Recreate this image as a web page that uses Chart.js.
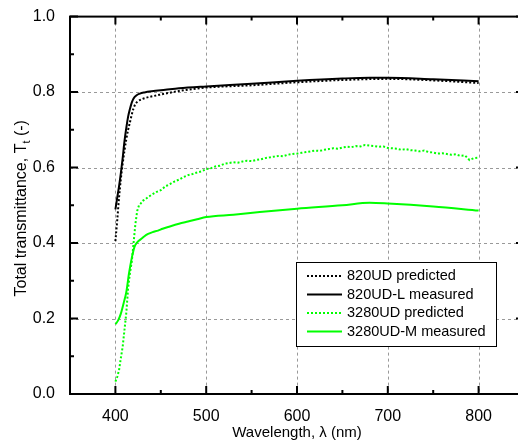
<!DOCTYPE html>
<html>
<head>
<meta charset="utf-8">
<script src="https://cdn.jsdelivr.net/npm/chart.js@4/dist/chart.umd.min.js"></script>
<style>
html, body { margin: 0; padding: 0; background: #fff; overflow: hidden; width: 518px; height: 443px; }
canvas { display: block; }
</style>
</head>
<body>
<canvas id="chart" width="532" height="443"></canvas>
<script>
// axis ticks
const xTicks = [400, 500, 600, 700, 800];
const xMinor = [450, 550, 650, 750];
const yTicks = [0, 0.2, 0.4, 0.6, 0.8, 1.0];
const yMinor = [0.1, 0.3, 0.5, 0.7, 0.9];

// 820UD predicted
const wl820Pred = [400, 402, 404, 406, 408, 410, 412, 414, 416, 418, 420, 422, 425, 430, 437, 445, 455, 470, 485, 500, 550, 600, 650, 700, 750, 800];
const t820Pred  = [0.405, 0.46, 0.52, 0.57, 0.61, 0.645, 0.675, 0.70, 0.72, 0.74, 0.757, 0.768, 0.776, 0.782, 0.787, 0.791, 0.796, 0.803, 0.808, 0.812, 0.818, 0.826, 0.832, 0.835, 0.831, 0.824];

// 820UD-L measured
const wl820Meas = [400, 402, 404, 406, 408, 410, 412, 414, 416, 418, 420, 423, 427, 432, 440, 455, 470, 500, 550, 600, 650, 680, 700, 750, 800];
const t820Meas  = [0.489, 0.52, 0.55, 0.585, 0.625, 0.67, 0.705, 0.735, 0.755, 0.772, 0.783, 0.791, 0.796, 0.799, 0.802, 0.806, 0.810, 0.815, 0.822, 0.830, 0.836, 0.838, 0.838, 0.834, 0.829];

// 3280UD predicted
const wl3280Pred = [400, 402, 404, 406, 408, 410, 412, 414, 416, 418, 420, 422, 424, 426, 428, 430, 433, 436, 440, 445, 450, 455, 460, 465, 470, 475, 480, 485, 490, 495, 500,
  505, 510, 515, 520, 525, 530, 535, 540, 545, 550, 555, 560, 565, 570, 575, 580, 585, 590, 595, 600,
  605, 610, 615, 620, 625, 630, 635, 640, 645, 650, 655, 660, 665, 670, 675, 680, 685, 690, 695, 700,
  705, 710, 715, 720, 725, 730, 735, 740, 745, 750, 755, 760, 765, 770, 775, 780, 785, 790, 795, 800];
const t3280Pred = [0.033, 0.045, 0.063, 0.095, 0.125, 0.17, 0.215, 0.28, 0.32, 0.35, 0.40, 0.45, 0.485, 0.50, 0.505, 0.512, 0.516, 0.522, 0.528, 0.535, 0.54, 0.55, 0.556, 0.563, 0.568, 0.575, 0.58, 0.583, 0.587, 0.59, 0.596,
  0.598, 0.603, 0.605, 0.61, 0.612, 0.614, 0.613, 0.616, 0.618, 0.617, 0.62, 0.622, 0.625, 0.627, 0.629, 0.631, 0.630, 0.634, 0.636, 0.637,
  0.639, 0.641, 0.643, 0.645, 0.644, 0.647, 0.649, 0.651, 0.650, 0.653, 0.655, 0.654, 0.657, 0.656, 0.660, 0.658, 0.657, 0.655, 0.656, 0.652,
  0.651, 0.650, 0.647, 0.649, 0.646, 0.645, 0.643, 0.645, 0.641, 0.640, 0.637, 0.638, 0.636, 0.634, 0.635, 0.631, 0.632, 0.620, 0.625, 0.626];

// 3280UD-M measured
const wl3280Meas = [400, 403, 406, 409, 412, 415, 418, 421, 424, 428, 432, 436, 441, 447, 452, 460, 470, 480, 490, 500, 530, 559, 600, 650, 680, 700, 750, 800];
const t3280Meas  = [0.185, 0.195, 0.213, 0.24, 0.27, 0.32, 0.36, 0.39, 0.402, 0.41, 0.418, 0.424, 0.429, 0.433, 0.438, 0.444, 0.451, 0.457, 0.463, 0.469, 0.475, 0.482, 0.491, 0.500, 0.507, 0.505, 0.497, 0.486];

const pts = (xs, ys) => xs.map((x, i) => ({ x: x, y: ys[i] }));
const FONT = "'Liberation Sans', Arial, Helvetica, sans-serif";
const GREEN = '#00ff00';

const frame = {
  id: 'frame',
  beforeDatasetsDraw(chart) {
    const { ctx, chartArea: a, scales: { x, y } } = chart;
    ctx.save();
    ctx.strokeStyle = '#999';
    ctx.lineWidth = 1;
    ctx.setLineDash([3, 3]);
    xTicks.forEach(v => {
      const px = Math.round(x.getPixelForValue(v)) + 0.5;
      ctx.beginPath(); ctx.moveTo(px, a.top); ctx.lineTo(px, a.bottom); ctx.stroke();
    });
    yTicks.forEach(v => {
      if (v === 0 || v === 1) return;
      const py = Math.round(y.getPixelForValue(v)) + 0.5;
      ctx.beginPath(); ctx.moveTo(a.left, py); ctx.lineTo(a.right, py); ctx.stroke();
    });
    ctx.restore();
  },
  afterDraw(chart) {
    const { ctx, chartArea: a, scales: { x, y } } = chart;
    ctx.save();
    ctx.strokeStyle = '#000';
    ctx.lineWidth = 2;
    ctx.setLineDash([]);
    ctx.strokeRect(a.left, a.top, a.right - a.left, a.bottom - a.top);
    const tick = (vals, len) => {
      vals.forEach(v => {
        const px = x.getPixelForValue(v);
        ctx.beginPath();
        ctx.moveTo(px, a.bottom); ctx.lineTo(px, a.bottom - len);
        ctx.moveTo(px, a.top); ctx.lineTo(px, a.top + len);
        ctx.stroke();
      });
    };
    const tickY = (vals, len) => {
      vals.forEach(v => {
        const py = y.getPixelForValue(v);
        ctx.beginPath();
        ctx.moveTo(a.left, py); ctx.lineTo(a.left + len, py);
        ctx.moveTo(a.right, py); ctx.lineTo(a.right - len, py);
        ctx.stroke();
      });
    };
    tick(xTicks, 8); tick(xMinor, 4);
    tickY(yTicks, 8); tickY(yMinor, 4);

    // legend
    const lx = 296, ly = 262, lw = 200, lh = 84;
    ctx.fillStyle = '#fff';
    ctx.fillRect(lx, ly, lw, lh);
    ctx.lineWidth = 1;
    ctx.strokeRect(lx + 0.5, ly + 0.5, lw, lh);
    ctx.font = '14.5px ' + FONT;
    ctx.textBaseline = 'middle';
    ctx.textAlign = 'left';
    chart.data.datasets.forEach((ds, i) => {
      const ry = 276 + i * 18.5;
      ctx.strokeStyle = ds.borderColor;
      ctx.lineWidth = 2;
      ctx.setLineDash(ds.borderDash || []);
      ctx.beginPath(); ctx.moveTo(307, ry); ctx.lineTo(342, ry); ctx.stroke();
      ctx.setLineDash([]);
      ctx.fillStyle = '#000';
      ctx.fillText(ds.label, 347, ry);
    });

    // axis titles
    ctx.fillStyle = '#000';
    ctx.font = '15px ' + FONT;
    ctx.textAlign = 'center';
    ctx.textBaseline = 'alphabetic';
    ctx.fillText('Wavelength, \u03bb (nm)', (a.left + a.right) / 2, 437);

    ctx.translate(26, (a.top + a.bottom) / 2 + 3);
    ctx.rotate(-Math.PI / 2);
    const main = 'Total transmittance, T';
    const sub = 't';
    const tail = ' (-)';
    ctx.font = '16px ' + FONT;
    const w1 = ctx.measureText(main).width;
    const w3 = ctx.measureText(tail).width;
    ctx.font = '11px ' + FONT;
    const w2 = ctx.measureText(sub).width;
    const total = w1 + w2 + w3;
    ctx.textAlign = 'left';
    ctx.font = '16px ' + FONT;
    ctx.fillText(main, -total / 2, 0);
    ctx.font = '11px ' + FONT;
    ctx.fillText(sub, -total / 2 + w1, 4);
    ctx.font = '16px ' + FONT;
    ctx.fillText(tail, -total / 2 + w1 + w2, 0);
    ctx.restore();
  }
};

const ctx = document.getElementById('chart').getContext('2d');
const chart = new Chart(ctx, {
  type: 'line',
  data: {
    datasets: [
      { label: '820UD predicted', data: pts(wl820Pred, t820Pred), borderColor: '#000', borderDash: [2, 2], borderWidth: 2, pointRadius: 0, cubicInterpolationMode: 'monotone' },
      { label: '820UD-L measured', data: pts(wl820Meas, t820Meas), borderColor: '#000', borderWidth: 2, pointRadius: 0, cubicInterpolationMode: 'monotone' },
      { label: '3280UD predicted', data: pts(wl3280Pred, t3280Pred), borderColor: GREEN, borderDash: [2, 2], borderWidth: 2, pointRadius: 0 },
      { label: '3280UD-M measured', data: pts(wl3280Meas, t3280Meas), borderColor: GREEN, borderWidth: 2, pointRadius: 0, cubicInterpolationMode: 'monotone' }
    ]
  },
  options: {
    responsive: false,
    animation: false,
    devicePixelRatio: 1,
    layout: { padding: { top: 16, right: 8, left: 0, bottom: 0 } },
    plugins: { legend: { display: false }, tooltip: { enabled: false } },
    scales: {
      x: {
        type: 'linear', min: 350, max: 850,
        afterBuildTicks: s => { s.ticks = xTicks.map(v => ({ value: v })); },
        afterFit: s => { s.height = 49; },
        grid: { display: false }, border: { display: false },
        ticks: { font: { family: FONT, size: 16 }, color: '#000', padding: 5, maxRotation: 0, autoSkip: false }
      },
      y: {
        type: 'linear', min: 0, max: 1,
        afterBuildTicks: s => { s.ticks = yTicks.map(v => ({ value: v })); },
        afterFit: s => { s.width = 70; },
        grid: { display: false }, border: { display: false },
        ticks: { font: { family: FONT, size: 16 }, color: '#000', padding: 7, autoSkip: false, callback: v => v.toFixed(1) }
      }
    }
  },
  plugins: [frame]
});
</script>
</body>
</html>
